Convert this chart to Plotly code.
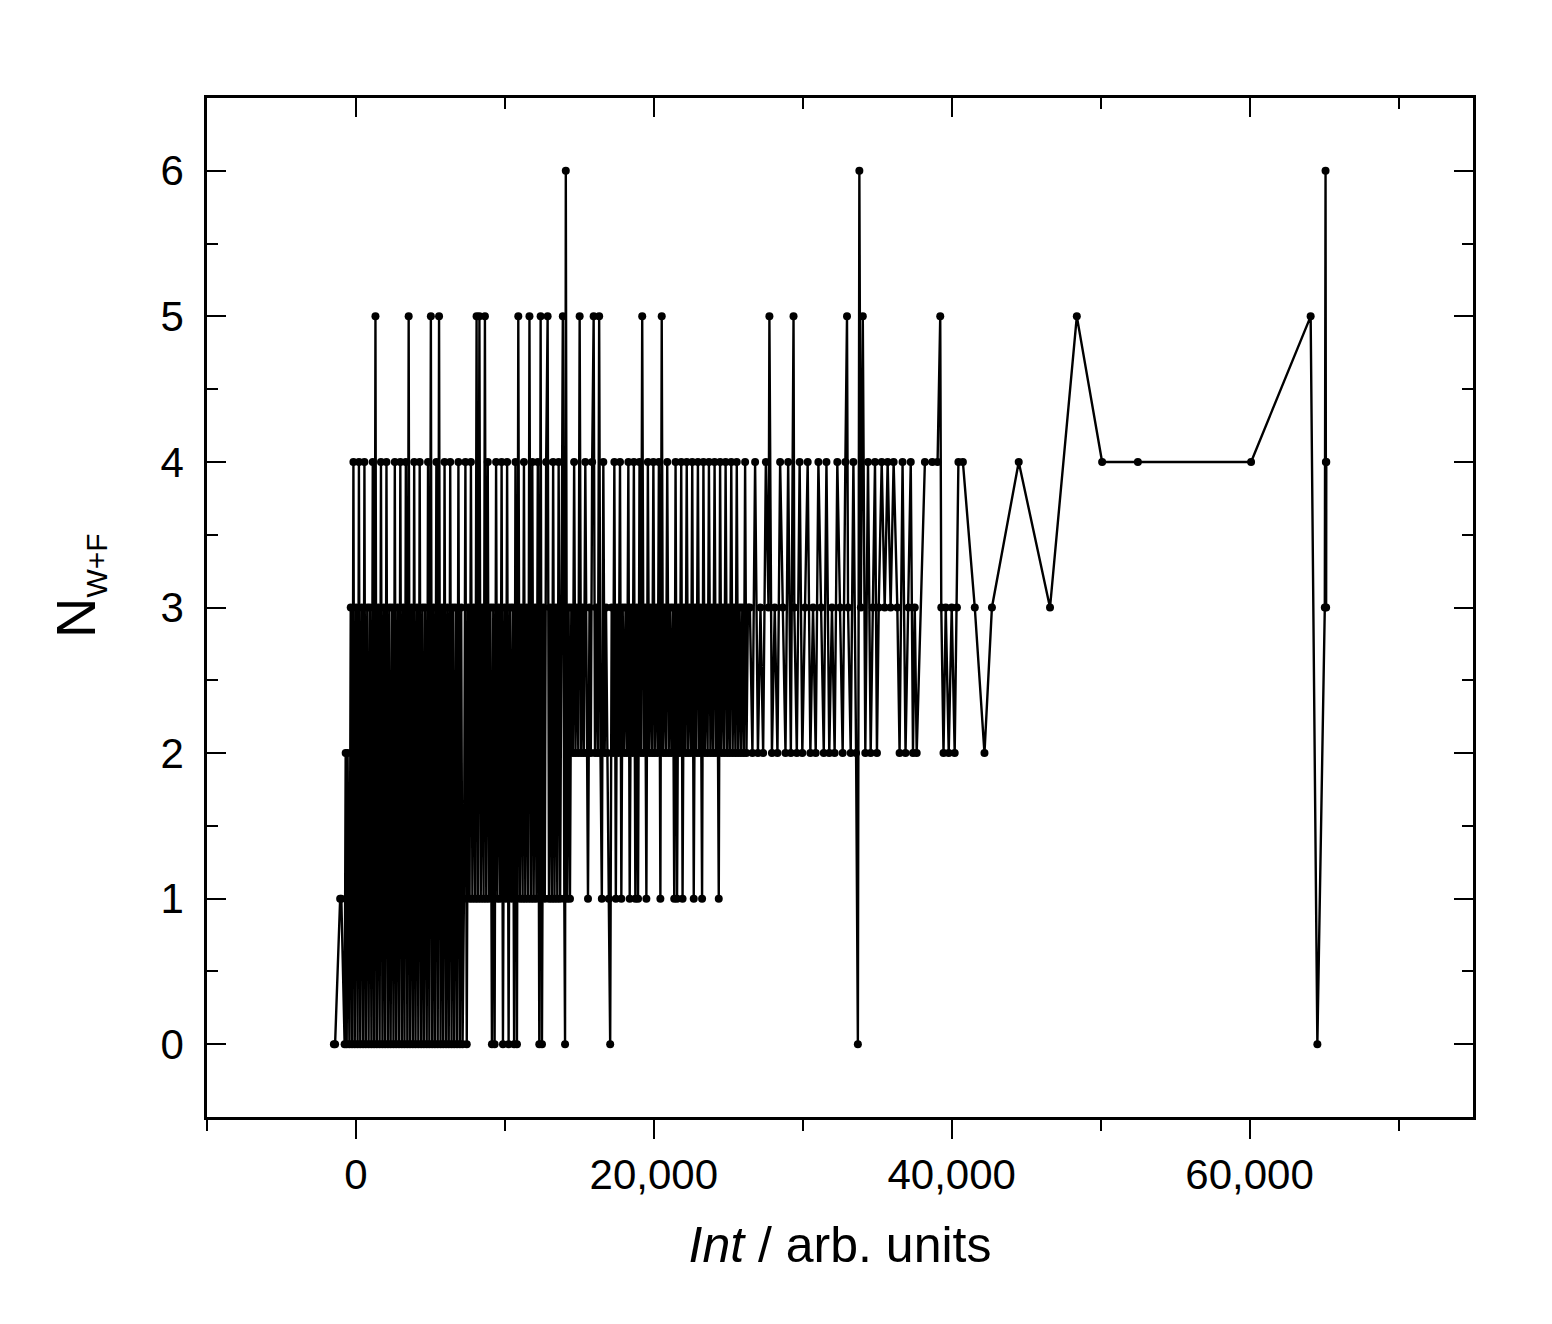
import plotly.graph_objs as go

# Data, in plotting order (x = Int, y = N_W+F)
int_start = [-1480, -1400, -1060, -980, -760, -690, -620, -560, -500]
n_start = [0, 0, 1, 1, 0, 2, 0, 2, 1]

int_low = [-440, -350, -260, -170, -80, 20, 110, 200, 290, 390,
           480, 570, 660, 760, 850, 940, 1040, 1130, 1220, 1310,
           1400, 1500, 1590, 1680, 1780, 1870, 1960, 2050, 2150, 2240,
           2330, 2430, 2520, 2610, 2700, 2800, 2890, 2980, 3080, 3170,
           3260, 3350, 3450, 3540, 3630, 3730, 3820, 3910, 4000, 4100,
           4190, 4280, 4380, 4470, 4560, 4650, 4750, 4840, 4930, 5030,
           5120, 5210, 5300, 5400, 5490, 5580, 5680, 5770, 5860, 5950,
           6050, 6140, 6230, 6330, 6420, 6510, 6600, 6700, 6790, 6880,
           6980, 7070, 7160]
n_low = [0, 3, 0, 4, 0, 3, 0, 4, 0, 3,
         0, 4, 0, 3, 0, 3, 0, 4, 0, 5,
         0, 3, 0, 4, 0, 3, 0, 4, 0, 3,
         0, 3, 0, 4, 0, 3, 0, 4, 0, 3,
         0, 4, 0, 5, 0, 3, 0, 4, 0, 3,
         0, 4, 0, 3, 0, 3, 0, 4, 0, 5,
         0, 3, 0, 4, 0, 5, 0, 3, 0, 4,
         0, 3, 0, 4, 0, 3, 0, 3, 0, 4,
         0, 3, 0]

int_mid = [7250, 7350, 7440, 7540, 7630, 7720, 7820, 7910, 8010, 8100,
           8190, 8290, 8380, 8470, 8570, 8660, 8750, 8850, 8940, 9030,
           9130, 9220, 9310, 9410, 9500, 9590, 9690, 9780, 9870, 9970,
           10060, 10150, 10250, 10340, 10430, 10530, 10620, 10710, 10810, 10900,
           11000, 11090, 11190, 11280, 11370, 11470, 11560, 11650, 11750, 11840,
           11930, 12030, 12120, 12210, 12310, 12400, 12490, 12590, 12680, 12770,
           12870, 12960, 13050, 13150, 13240, 13330, 13430, 13520, 13610, 13710,
           13800, 13890, 13990, 14040, 14090, 14180, 14280, 14370]
n_mid = [1, 4, 0, 3, 1, 4, 1, 3, 1, 5,
         1, 5, 1, 3, 1, 5, 1, 4, 1, 3,
         0, 3, 0, 4, 1, 3, 1, 4, 0, 3,
         1, 4, 0, 3, 1, 3, 0, 4, 0, 5,
         1, 3, 1, 4, 1, 3, 1, 5, 1, 4,
         1, 3, 1, 4, 0, 5, 0, 3, 1, 4,
         5, 1, 3, 1, 4, 1, 3, 1, 4, 1,
         3, 5, 1, 0, 6, 1, 3, 1]

int_high = [14460, 14560, 14650, 14740, 14840, 14930, 15020, 15120, 15210, 15300,
            15400, 15490, 15580, 15680, 15770, 15860, 15960, 16050, 16140, 16240,
            16330, 16420, 16510, 16610, 16700, 16790, 16890, 16980, 17070, 17170,
            17260, 17350, 17450, 17540, 17630, 17730, 17820, 17910,
            18010, 18100, 18200, 18290, 18380, 18480, 18570, 18660, 18760, 18850,
            18940, 19040, 19130, 19220, 19320, 19410, 19500, 19600, 19690, 19780,
            19880, 19970, 20060, 20160, 20250, 20340, 20440, 20530, 20620, 20720,
            20810, 20900, 21000, 21090, 21180, 21280, 21370, 21460, 21560, 21650,
            21740, 21840, 21930, 22020, 22120, 22210, 22300, 22400, 22490, 22580,
            22680, 22770, 22860, 22960, 23050, 23140, 23240, 23330, 23420, 23520,
            23610, 23700, 23800, 23890, 23980, 24080, 24170, 24260, 24360, 24450,
            24540, 24640, 24730, 24820, 24920, 25010, 25100, 25200, 25290, 25380,
            25480, 25570, 25660, 25760, 25850, 25940, 26040, 26130, 26220, 26320]
n_high = [3, 2, 4, 2, 3, 2, 5, 2, 3, 2,
          4, 2, 1, 3, 2, 4, 5, 2, 3, 2,
          5, 2, 1, 4, 2, 3, 2, 1, 0, 3,
          2, 4, 1, 3, 2, 4, 1, 3,
          2, 3, 2, 4, 1, 3, 2, 4, 1, 3,
          1, 4, 2, 5, 2, 3, 1, 4, 2, 3,
          2, 4, 2, 3, 2, 4, 1, 5, 2, 3,
          2, 4, 2, 3, 2, 3, 1, 4, 1, 3,
          2, 4, 1, 3, 2, 4, 2, 3, 2, 4,
          1, 3, 2, 4, 2, 3, 1, 4, 2, 3,
          2, 4, 2, 3, 2, 4, 2, 3, 1, 4,
          2, 3, 2, 4, 2, 3, 2, 4, 2, 3,
          2, 4, 2, 3, 2, 3, 2, 4, 2, 3]

int_upper = [26450, 26620, 26800, 26990, 27160, 27340, 27520, 27700, 27760, 27930,
             28120, 28300, 28480, 28660, 28840, 29020, 29200, 29380, 29430, 29600,
             29790, 29970, 30150, 30330, 30510, 30690, 30870, 31050, 31230, 31410,
             31590, 31780, 31960, 32140, 32320, 32500, 32680, 32860, 32970, 33040,
             33220, 33400, 33580, 33700, 33800, 33900, 34030, 34200, 34380, 34560, 34700,
             34850, 34980, 35100, 35300, 35500, 35700, 35900, 36100, 36350, 36500,
             36700, 36900, 37100, 37250, 37400, 37520, 37650, 38200, 38700, 39050,
             39230, 39300, 39450, 39600, 39800, 40000, 40200, 40350, 40450, 40750,
             41550, 42200, 42700]
n_upper = [3, 2, 4, 2, 3, 2, 4, 3, 5, 2,
           3, 2, 4, 3, 2, 4, 2, 5, 3, 2,
           4, 2, 3, 4, 2, 3, 2, 4, 3, 2,
           4, 2, 3, 2, 4, 3, 2, 4, 5, 3,
           2, 4, 2, 0, 6, 3, 5, 2, 4, 2, 3,
           4, 2, 3, 4, 3, 4, 3, 4, 3, 2,
           4, 2, 3, 4, 2, 3, 2, 4, 4, 4,
           5, 3, 2, 3, 2, 3, 2, 3, 4, 4,
           3, 2, 3]

int_tail = [44500, 46600, 48400, 50100, 52500, 60100, 64100, 64550, 65050, 65100, 65120, 65140, 65150]
n_tail = [4, 3, 5, 4, 4, 4, 5, 0, 3, 6, 4, 3, 4]

int_values = int_start + int_low + int_mid + int_high + int_upper + int_tail
n_values = n_start + n_low + n_mid + n_high + n_upper + n_tail

# Create figure
fig = go.Figure()

fig.add_trace(go.Scatter(
    x=int_values,
    y=n_values,
    mode='lines+markers',
    line=dict(color='black', width=2.4),
    marker=dict(color='black', size=8),
    showlegend=False,
))

# Empty trace so the top axis (inward ticks) is drawn
fig.add_trace(go.Scatter(x=[None], y=[None], xaxis='x2', showlegend=False))

tick_font = dict(family='Liberation Sans, Arial', size=42, color='black')

fig.update_layout(
    width=1552,
    height=1324,
    margin=dict(l=199, r=87, t=90, b=215),
    paper_bgcolor='white',
    plot_bgcolor='white',
    font=dict(family='Liberation Sans, Arial', color='black'),
    xaxis=dict(
        range=[-10000, 75000],
        tick0=0, dtick=20000, tickformat=',d',
        ticks='outside', ticklen=19, tickwidth=2, tickcolor='black',
        ticklabelstandoff=0,
        tickfont=tick_font,
        minor=dict(tick0=0, dtick=10000, ticks='outside', ticklen=11, tickwidth=2,
                   tickcolor='black', showgrid=False),
        showline=True, linewidth=2.5, linecolor='black', mirror=True,
        showgrid=False, zeroline=False,
        title=dict(text='<i>Int</i> / arb. units', font=dict(size=50), standoff=30),
    ),
    xaxis2=dict(
        overlaying='x', side='top', anchor='y',
        range=[-10000, 75000],
        tick0=0, dtick=20000,
        ticks='inside', ticklen=19, tickwidth=2, tickcolor='black',
        showticklabels=False,
        minor=dict(tick0=0, dtick=10000, ticks='inside', ticklen=11, tickwidth=2,
                   tickcolor='black', showgrid=False),
        showline=False, showgrid=False, zeroline=False,
    ),
    yaxis=dict(
        range=[-0.5, 6.5],
        tick0=0, dtick=1,
        ticks='inside', ticklen=19, tickwidth=2, tickcolor='black',
        ticklabelstandoff=12,
        tickfont=tick_font,
        minor=dict(tick0=0, dtick=0.5, ticks='inside', ticklen=11, tickwidth=2,
                   tickcolor='black', showgrid=False),
        showline=True, linewidth=2.5, linecolor='black', mirror='ticks',
        showgrid=False, zeroline=False,
    ),
)

# Y-axis title placed as a rotated annotation
fig.add_annotation(
    xref='paper', yref='paper',
    x=-0.102, y=0.522,
    xanchor='center', yanchor='middle',
    textangle=-90,
    text='N<sub><span style="font-size:30px">W+F</span></sub>',
    font=dict(family='Liberation Sans, Arial', size=56, color='black'),
    showarrow=False,
)

fig.write_html("out.html")
